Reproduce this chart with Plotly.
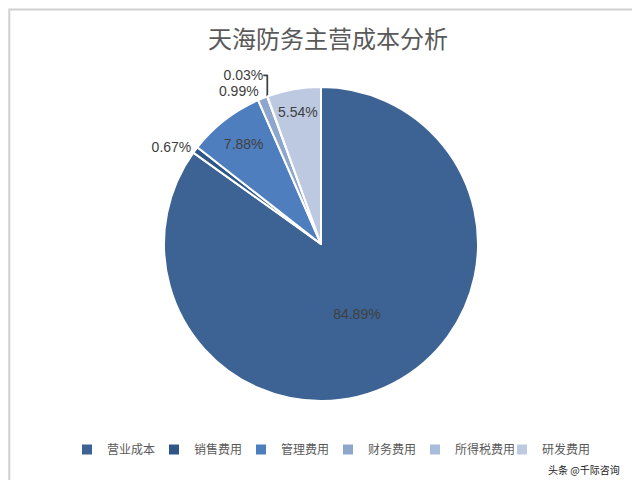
import plotly.graph_objects as go

labels = ["营业成本", "销售费用", "管理费用", "财务费用", "所得税费用", "研发费用"]
values = [84.89, 0.67, 7.88, 0.99, 0.03, 5.54]
text_pos = ["inside", "outside", "inside", "outside", "outside", "inside"]
colors = ["#3C6393", "#2E5788", "#4F7EBF", "#8EA6CB", "#A9BCDB", "#BCC9E0"]

fig = go.Figure(go.Pie(
    labels=labels,
    values=values,
    sort=False,
    direction="clockwise",
    rotation=0,
    texttemplate="%{value:.2f}%",
    textposition=text_pos,
    textfont=dict(family="Liberation Sans, Arial", size=14, color="#404040"),
    insidetextorientation="horizontal",
    marker=dict(colors=colors, line=dict(color="#FFFFFF", width=2)),
    domain=dict(x=[156/640, 470/640], y=[87/480, 401/480]),
    hoverinfo="label+value",
))

fig.update_layout(
    width=640, height=480,
    margin=dict(l=0, r=0, t=0, b=0),
    paper_bgcolor="#FFFFFF",
    title=dict(text="天海防务主营成本分析", x=0.5, xanchor="center", y=0.935, yanchor="middle",
               font=dict(family="Noto Sans CJK SC", size=24, color="#595959")),
    legend=dict(orientation="h", x=0.5, xanchor="center", y=0.08, yanchor="middle",
                font=dict(family="Noto Sans CJK SC", size=12, color="#595959"),
                itemwidth=30, entrywidth=42, entrywidthmode="pixels", traceorder="normal"),
    showlegend=True,
    shapes=[dict(type="rect", xref="paper", yref="paper", x0=0.002, y0=0.003, x1=0.998, y1=0.997,
                 line=dict(color="#D0D0D0", width=2))],
    annotations=[dict(text="头条 @千际咨询", x=0.96, y=0.018, xref="paper", yref="paper",
                      xanchor="right", yanchor="bottom", showarrow=False,
                      font=dict(family="Noto Sans CJK SC", size=10, color="#222222"))],
)

fig.write_html("out.html")
